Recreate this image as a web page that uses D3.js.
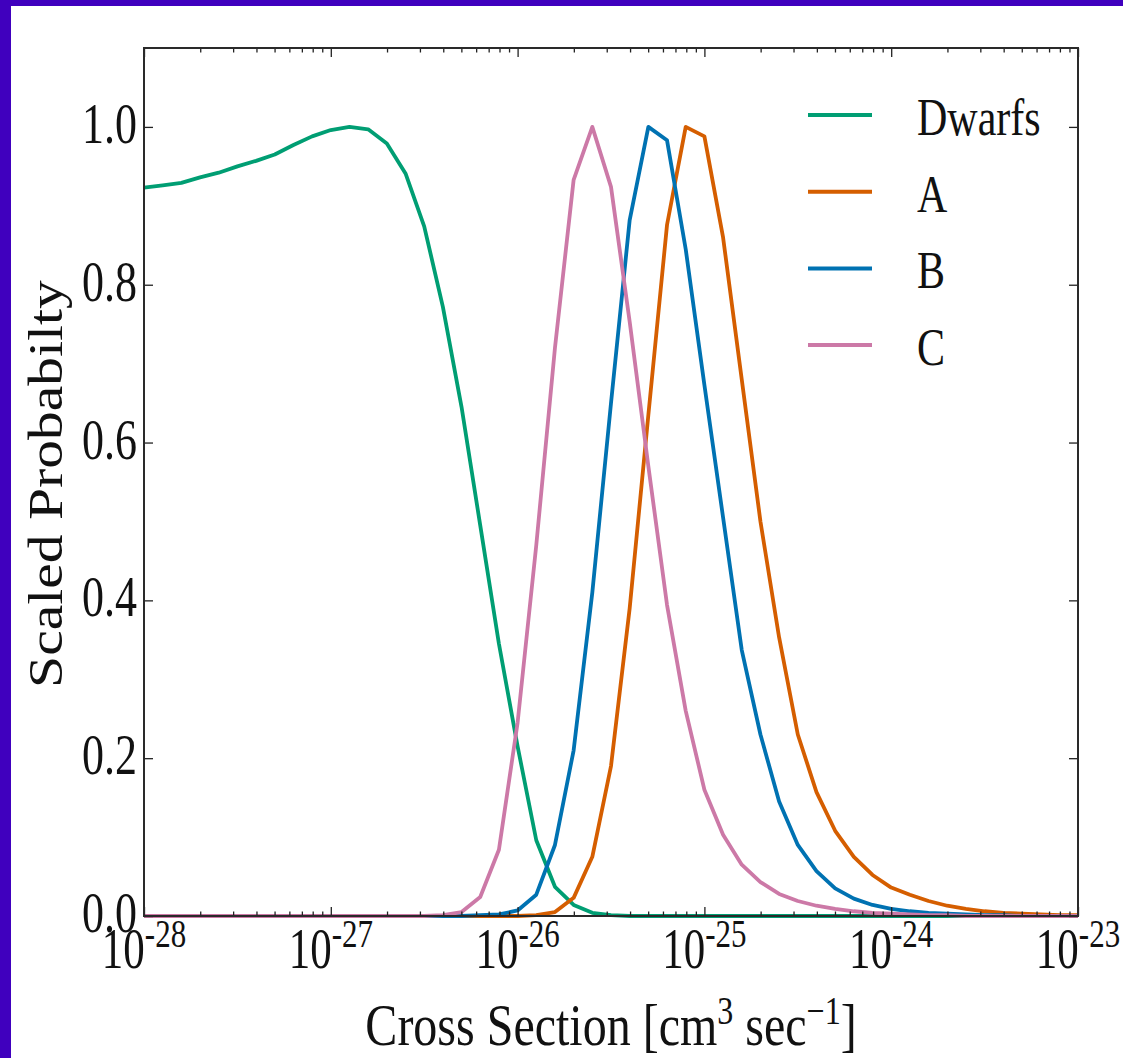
<!DOCTYPE html>
<html>
<head>
<meta charset="utf-8">
<script src="https://cdn.jsdelivr.net/npm/d3@7"></script>
<style>
html,body{margin:0;padding:0;background:#ffffff;overflow:hidden;}
svg{display:block;}
</style>
</head>
<body>
<svg id="chart" width="1123" height="1058"></svg>
<script>
// ---- data ----
const logCross = [-28.0,-27.9,-27.8,-27.7,-27.6,-27.5,-27.4,-27.3,-27.2,-27.1,
  -27.0,-26.9,-26.8,-26.7,-26.6,-26.5,-26.4,-26.3,-26.2,-26.1,
  -26.0,-25.9,-25.8,-25.7,-25.6,-25.5,-25.4,-25.3,-25.2,-25.1,
  -25.0,-24.9,-24.8,-24.7,-24.6,-24.5,-24.4,-24.3,-24.2,-24.1,
  -24.0,-23.9,-23.8,-23.7,-23.6,-23.5,-23.4,-23.3,-23.2,-23.1,-23.0];

const dwarfs = [0.923,0.926,0.929,0.936,0.942,0.950,0.957,0.965,0.977,0.988,
  0.996,1.000,0.997,0.979,0.941,0.874,0.772,0.645,0.495,0.345,
  0.215,0.096,0.037,0.014,0.004,0.001,0,0,0,0,
  0,0,0,0,0,0,0,0,0,0,
  0,0,0,0,0,0,0,0,0,0,0];
const seriesA = [0,0,0,0,0,0,0,0,0,0,
  0,0,0,0,0,0,0,0,0,0,
  0,0.001,0.005,0.023,0.075,0.19,0.39,0.635,0.876,1.0,
  0.988,0.86,0.68,0.50,0.353,0.23,0.157,0.108,0.075,0.052,
  0.036,0.027,0.019,0.013,0.009,0.006,0.004,0.003,0.002,0.001,0.001];
const seriesB = [0,0,0,0,0,0,0,0,0,0,
  0,0,0,0,0,0,0,0,0.001,0.002,
  0.007,0.027,0.09,0.21,0.41,0.65,0.882,1.0,0.983,0.845,
  0.673,0.505,0.337,0.23,0.145,0.09,0.057,0.035,0.022,0.014,
  0.009,0.006,0.004,0.003,0.002,0.001,0.001,0,0,0,0];
const seriesC = [0,0,0,0,0,0,0,0,0,0,
  0,0,0,0,0,0,0.001,0.005,0.024,0.084,
  0.245,0.47,0.72,0.933,1.0,0.924,0.753,0.57,0.394,0.26,
  0.16,0.103,0.065,0.043,0.028,0.019,0.013,0.009,0.006,0.004,
  0.003,0.002,0.001,0.001,0,0,0,0,0,0,0];

const seriesNames = ["Dwarfs","A","B","C"];
const seriesColors = ["#009e73","#d55e00","#0072b2","#cc79a7"];
const seriesValues = [dwarfs, seriesA, seriesB, seriesC];

const xMajorExp = [-28,-27,-26,-25,-24,-23];
const yTickValues = [0.0,0.2,0.4,0.6,0.8,1.0];
const yTickLabels = ["0.0","0.2","0.4","0.6","0.8","1.0"];
const yLabel = "Scaled Probabilty";

// ---- layout ----
const svg = d3.select("#chart");
const L = 144, R = 1078, T = 48, B = 916;
const serif = "'Liberation Serif','Times New Roman',Times,serif";

svg.append("rect").attr("x",0).attr("y",0).attr("width",1123).attr("height",1058).attr("fill","#ffffff");
svg.append("rect").attr("x",0).attr("y",0).attr("width",11).attr("height",1058).attr("fill","#4000be");
svg.append("rect").attr("x",0).attr("y",0).attr("width",1123).attr("height",6).attr("fill","#4000be");

const x = d3.scaleLog().domain([1e-28,1e-23]).range([L,R]);
const y = d3.scaleLinear().domain([0,1.1]).range([B,T]);

// ---- curves ----
const line = d3.line().x(d=>x(Math.pow(10,d[0]))).y(d=>y(d[1]));
seriesValues.forEach((vals,i)=>{
  const pts = logCross.map((lx,j)=>[lx, vals[j]]);
  svg.append("path").datum(pts)
    .attr("d", line)
    .attr("fill","none")
    .attr("stroke", seriesColors[i])
    .attr("stroke-width", 3.8)
    .attr("stroke-linejoin","round");
});

// ---- ticks ----
const majorVals = xMajorExp.map(e=>Math.pow(10,e));
const minorVals = [];
xMajorExp.slice(0,-1).forEach(e=>{ for(let m=2;m<=9;m++) minorVals.push(m*Math.pow(10,e)); });

function styleAxis(g){
  g.select(".domain").remove();
  g.selectAll("text").remove();
  g.selectAll("line").attr("stroke","#222").attr("stroke-width",1.3);
}
svg.append("g").attr("transform",`translate(0,${B})`).call(d3.axisBottom(x).tickValues(majorVals).tickSize(-9)).call(styleAxis);
svg.append("g").attr("transform",`translate(0,${B})`).call(d3.axisBottom(x).tickValues(minorVals).tickSize(-4.5)).call(styleAxis);
svg.append("g").attr("transform",`translate(0,${T})`).call(d3.axisTop(x).tickValues(majorVals).tickSize(-9)).call(styleAxis);
svg.append("g").attr("transform",`translate(0,${T})`).call(d3.axisTop(x).tickValues(minorVals).tickSize(-4.5)).call(styleAxis);
svg.append("g").attr("transform",`translate(${L},0)`).call(d3.axisLeft(y).tickValues(yTickValues).tickSize(-9)).call(styleAxis);
svg.append("g").attr("transform",`translate(${R},0)`).call(d3.axisRight(y).tickValues(yTickValues).tickSize(-9)).call(styleAxis);

// frame
svg.append("rect").attr("x",L).attr("y",T).attr("width",R-L).attr("height",B-T)
  .attr("fill","none").attr("stroke","#2a2a2a").attr("stroke-width",2);

// ---- tick labels ----
yTickValues.forEach((v,i)=>{
  svg.append("text")
    .attr("transform",`translate(${L-7},${y(v)+16}) scale(1,1.3)`)
    .attr("text-anchor","end")
    .attr("font-family",serif).attr("font-size",44).attr("fill","#111")
    .text(yTickLabels[i]);
});
xMajorExp.forEach(e=>{
  const t = svg.append("text")
    .attr("transform",`translate(${x(Math.pow(10,e))},968) scale(1,1.32)`)
    .attr("text-anchor","middle")
    .attr("font-family",serif).attr("fill","#111");
  t.append("tspan").attr("font-size",43).text("10");
  t.append("tspan").attr("font-size",31).attr("dy",-16).text(String(e));
});

// ---- axis titles ----
const xt = svg.append("text")
  .attr("transform",`translate(${(L+R)/2},1045) scale(1,1.25)`)
  .attr("text-anchor","middle")
  .attr("font-family",serif).attr("font-size",48).attr("fill","#111");
xt.append("tspan").text("Cross Section [cm");
xt.append("tspan").attr("font-size",32).attr("dy",-17).text("3");
xt.append("tspan").attr("dy",17).text(" sec");
xt.append("tspan").attr("font-size",32).attr("dy",-17).text("\u22121");
xt.append("tspan").attr("dy",17).text("]");

svg.append("text")
  .attr("transform",`translate(62,484) rotate(-90) scale(1.2,1)`)
  .attr("text-anchor","middle")
  .attr("font-family",serif).attr("font-size",48).attr("fill","#111")
  .text(yLabel);

// ---- legend ----
const legY0 = 115, legStep = 76.7;
seriesNames.forEach((n,i)=>{
  const ly = legY0 + i*legStep;
  svg.append("line").attr("x1",808).attr("x2",872).attr("y1",ly).attr("y2",ly)
    .attr("stroke",seriesColors[i]).attr("stroke-width",4);
  svg.append("text")
    .attr("transform",`translate(917,${ly+20}) scale(1,1.25)`)
    .attr("font-family",serif).attr("font-size",42).attr("fill","#111")
    .text(n);
});
</script>
</body>
</html>
